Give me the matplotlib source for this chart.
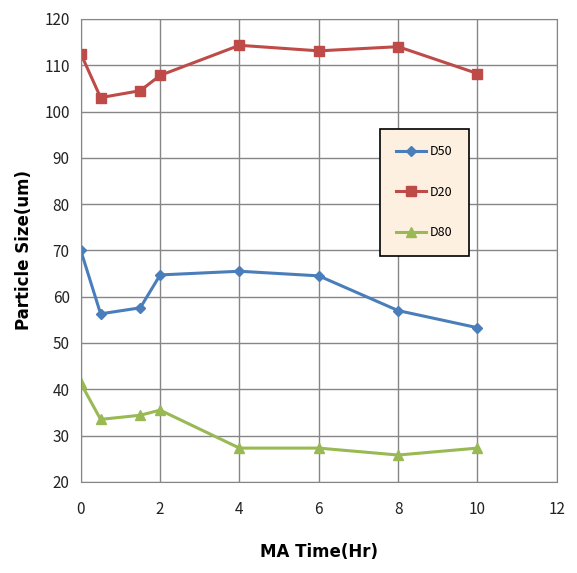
import matplotlib.pyplot as plt

ma_time = [0, 0.5, 1.5, 2, 4, 6, 8, 10]
d50 = [70.0, 56.3, 57.6, 64.7, 65.5, 64.5, 57.0, 53.3]
d20 = [112.5, 103.0, 104.5, 107.8, 114.3, 113.1, 114.0, 108.2]
d80 = [41.3, 33.5, 34.4, 35.5, 27.3, 27.3, 25.8, 27.3]
x_ticks = [0, 2, 4, 6, 8, 10, 12]
y_ticks = [20, 30, 40, 50, 60, 70, 80, 90, 100, 110, 120]

plt.rcParams['font.family'] = ['Noto Sans CJK KR', 'DejaVu Sans']

fig = plt.figure(figsize=(5.77, 5.73), dpi=100)
ax = fig.add_axes([0.140, 0.159, 0.825, 0.808])

ax.plot(ma_time, d50, color='#4a7ebb', linewidth=2.2, marker='D', markersize=5, label='D50')
ax.plot(ma_time, d20, color='#be4b48', linewidth=2.2, marker='s', markersize=7, label='D20')
ax.plot(ma_time, d80, color='#98b954', linewidth=2.2, marker='^', markersize=7, label='D80')

ax.set_xlim(0, 12)
ax.set_ylim(20, 120)
ax.set_xticks(x_ticks)
ax.set_yticks(y_ticks)
ax.grid(True, color='#868686', linewidth=1)
ax.set_axisbelow(True)
for s in ax.spines.values():
    s.set_color('#868686')
ax.tick_params(length=0, labelsize=11, colors='#222222', pad=8)
ax.tick_params(axis='x', pad=14)

ax.set_xlabel('MA Time(Hr)', fontsize=12, fontweight='bold', family='DejaVu Sans', labelpad=18)
ax.set_ylabel('Particle Size(um)', fontsize=12, fontweight='bold', family='DejaVu Sans', labelpad=8)

leg = ax.legend(loc='upper left', bbox_to_anchor=(0.628, 0.762), fontsize=9,
                labelspacing=2.2, borderpad=1.3, handlelength=2.4, handletextpad=0.3,
                fancybox=False, framealpha=1, borderaxespad=0)
leg.get_frame().set_facecolor('#fdf0e0')
leg.get_frame().set_edgecolor('black')
leg.get_frame().set_linewidth(1.2)

plt.savefig('out.png')
